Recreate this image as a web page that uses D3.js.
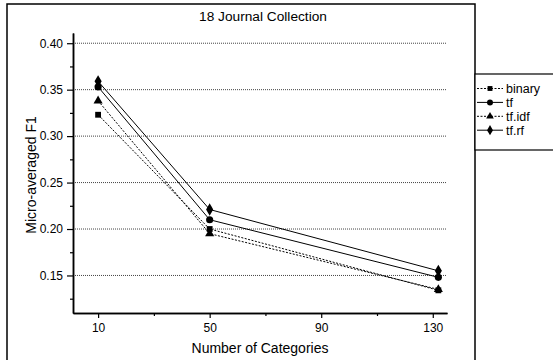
<!DOCTYPE html>
<html>
<head>
<meta charset="utf-8">
<script src="https://cdn.jsdelivr.net/npm/d3@7"></script>
<style>
  body { margin: 0; background: #fff; }
  text { font-family: "Liberation Sans", Arial, sans-serif; fill: #000; }
</style>
</head>
<body>
<svg class="chart" width="553" height="360"></svg>
<script>
var categories = [10, 50, 132];
var xTicks = [10, 50, 90, 130];
var yTicks = [0.15, 0.20, 0.25, 0.30, 0.35, 0.40];

var binary = [0.323, 0.200, 0.134];
var tf     = [0.353, 0.210, 0.148];
var tfidf  = [0.338, 0.195, 0.135];
var tfrf   = [0.359, 0.221, 0.155];

var seriesNames = ["binary", "tf", "tf.idf", "tf.rf"];
var seriesVals  = [binary, tf, tfidf, tfrf];
var dashed      = [true, false, true, false];
var shapes      = [d3.symbolSquare, d3.symbolCircle, d3.symbolTriangle, d3.symbolDiamond];
var shapeSize   = [34, 40, 36, 44];

var svg = d3.select(".chart");

// plot box (left/bottom axes only)
var pLeft = 73, pRight = 447, pTop = 33, pBottom = 313;

var x = d3.scaleLinear().domain([1, 135.1]).range([pLeft, pRight]);
var y = d3.scaleLinear().domain([0.1096, 0.411]).range([pBottom, pTop]);

// outer frame
svg.append("rect")
  .attr("x", 7).attr("y", 4)
  .attr("width", 468).attr("height", 370)
  .attr("fill", "none").attr("stroke", "#000").attr("stroke-width", 1.5);

// grid
svg.append("g").selectAll("line")
  .data(yTicks)
  .enter().append("line")
  .attr("x1", pLeft).attr("x2", pRight)
  .attr("y1", function(d) { return y(d); })
  .attr("y2", function(d) { return y(d); })
  .attr("stroke", "#444").attr("stroke-width", 1)
  .attr("stroke-dasharray", "1,1");

// axes
var xAxis = d3.axisBottom(x).tickValues(xTicks).tickSize(5).tickSizeOuter(0).tickPadding(5);
var xMinor = d3.axisBottom(x).tickValues([30, 70, 110]).tickSize(3).tickSizeOuter(0).tickFormat("");
var yAxis = d3.axisLeft(y).tickValues(yTicks).tickSize(6).tickSizeOuter(0).tickPadding(4)
  .tickFormat(d3.format(".2f"));
var yMinor = d3.axisLeft(y).tickValues([0.125, 0.175, 0.225, 0.275, 0.325, 0.375])
  .tickSize(3).tickSizeOuter(0).tickFormat("");

function styleAxis(g) {
  g.selectAll("path").attr("stroke", "#000").attr("stroke-width", 1.5);
  g.selectAll("line").attr("stroke", "#000").attr("stroke-width", 1.2);
  g.selectAll("text").style("font-family", "Liberation Sans, Arial, sans-serif")
    .style("font-size", "12px").attr("fill", "#000");
}

svg.append("g").attr("transform", "translate(0," + pBottom + ")").call(xMinor).call(styleAxis);
svg.append("g").attr("transform", "translate(0," + pBottom + ")").call(xAxis).call(styleAxis);
svg.append("g").attr("transform", "translate(" + pLeft + ",0)").call(yMinor).call(styleAxis);
svg.append("g").attr("transform", "translate(" + pLeft + ",0)").call(yAxis).call(styleAxis);

// lines
var line = d3.line()
  .x(function(d, i) { return x(categories[i]); })
  .y(function(d) { return y(d); });

seriesVals.forEach(function(vals, k) {
  svg.append("path")
    .datum(vals)
    .attr("d", line)
    .attr("fill", "none")
    .attr("stroke", "#000")
    .attr("stroke-width", 1)
    .attr("stroke-dasharray", dashed[k] ? "2,1.5" : null);
});

seriesVals.forEach(function(vals, k) {
  svg.append("g").selectAll("path")
    .data(vals)
    .enter().append("path")
    .attr("d", d3.symbol().type(shapes[k]).size(shapeSize[k]))
    .attr("transform", function(d, i) { return "translate(" + x(categories[i]) + "," + y(d) + ")"; })
    .attr("fill", "#000");
});

// titles
svg.append("text")
  .attr("x", 263).attr("y", 21)
  .attr("text-anchor", "middle")
  .style("font-size", "13.7px")
  .text("18 Journal Collection");

svg.append("text")
  .attr("x", 260).attr("y", 353)
  .attr("text-anchor", "middle")
  .style("font-size", "14px")
  .text("Number of Categories");

svg.append("text")
  .attr("transform", "translate(36," + ((pTop + pBottom) / 2 + 2) + ") rotate(-90)")
  .attr("text-anchor", "middle")
  .style("font-size", "14px")
  .text("Micro-averaged F1");

// legend
var legend = svg.append("g");
legend.append("rect")
  .attr("x", 475).attr("y", 74)
  .attr("width", 90).attr("height", 76)
  .attr("fill", "#fff").attr("stroke", "#000").attr("stroke-width", 1.2);

seriesNames.forEach(function(name, k) {
  var ly = 88.5 + k * 13.9;
  legend.append("line")
    .attr("x1", 477).attr("x2", 503)
    .attr("y1", ly).attr("y2", ly)
    .attr("stroke", "#000").attr("stroke-width", 1)
    .attr("stroke-dasharray", dashed[k] ? "2,1.5" : null);
  legend.append("path")
    .attr("d", d3.symbol().type(shapes[k]).size(shapeSize[k] * 0.7))
    .attr("transform", "translate(490," + ly + ")")
    .attr("fill", "#000");
  legend.append("text")
    .attr("x", 506).attr("y", ly + 4.5)
    .style("font-size", "12.5px")
    .text(name);
});
</script>
</body>
</html>
